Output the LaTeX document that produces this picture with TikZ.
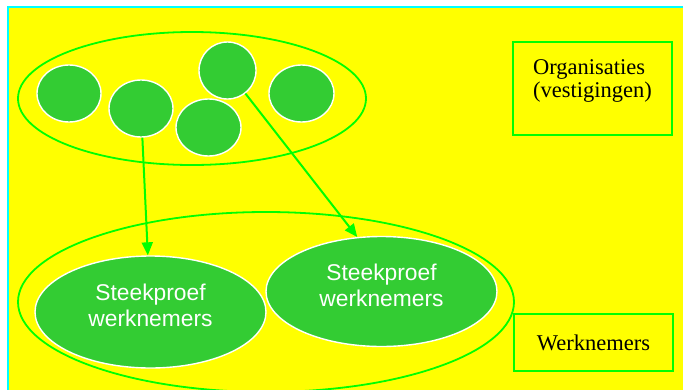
\documentclass[tikz,border=0pt]{standalone}
\usepackage{fontspec}
\setmainfont{Liberation Serif}
\setsansfont{Liberation Sans}
\usepackage{tikz}
\usetikzlibrary{shapes.geometric,arrows.meta}
\definecolor{geel}{HTML}{FFFF00}
\definecolor{lichtgroen}{HTML}{00FF00}
\definecolor{groen}{HTML}{33CC33}
\definecolor{cyaan}{HTML}{00FFFF}

\begin{document}
\begin{tikzpicture}[x=1pt,y=-1pt,
    vestiging/.style={ellipse,fill=groen,draw=white,line width=1.4pt,inner sep=0pt,minimum width=64pt,minimum height=57pt},
    groep/.style={ellipse,draw=lichtgroen,line width=1.8pt,inner sep=0pt},
    steekproef/.style={ellipse,fill=groen,draw=white,line width=1.4pt,inner sep=0pt,text=white,align=center,text depth=13pt,font=\sffamily\fontsize{22.8}{26}\selectfont},
    legenda/.style={draw=lichtgroen,line width=1.8pt,align=left,minimum width=159pt,font=\fontsize{22.5}{23.5}\selectfont},
    pijl/.style={draw=lichtgroen,line width=2pt,-{Triangle[length=13pt,width=11pt]}}]
                \useasboundingbox (0,0) rectangle (683,389);
                \fill[geel] (8,7) rectangle (695,400);
                \draw[cyaan,line width=1.8pt] (8,400) -- (8,7) -- (695,7);
                % organisaties
                \node[groep,minimum width=348pt,minimum height=133pt] (org) at (192,98.5) {};
                \node[vestiging] (v1) at (69,93.5) {};
                \node[vestiging] (v2) at (141,108.5) {};
                \node[vestiging,minimum width=57pt] (v3) at (227.5,70.5) {};
                \node[vestiging,minimum width=65pt] (v4) at (208.5,127.5) {};
                \node[vestiging,minimum width=65pt] (v5) at (301.5,93.5) {};
                % werknemers
                \node[groep,minimum width=496pt,minimum height=180pt] (werk) at (266,302) {};
                \node[steekproef,minimum width=231pt,minimum height=112pt] (s1) at (150.5,312) {Steekproef\\werknemers};
                \node[steekproef,minimum width=231pt,minimum height=110pt] (s2) at (381.5,291.5) {Steekproef\\werknemers};
                \draw[pijl] (v2) -- (s1);
                \draw[pijl] (v3) -- (s2.114);
                \node[legenda,minimum height=93pt,text depth=20pt] (lorg) at (592.5,88.5) {Organisaties\\(vestigingen)};
                \node[legenda,minimum height=57pt] (lwerk) at (593.5,342.5) {Werknemers};
            \end{tikzpicture}
\end{document}
